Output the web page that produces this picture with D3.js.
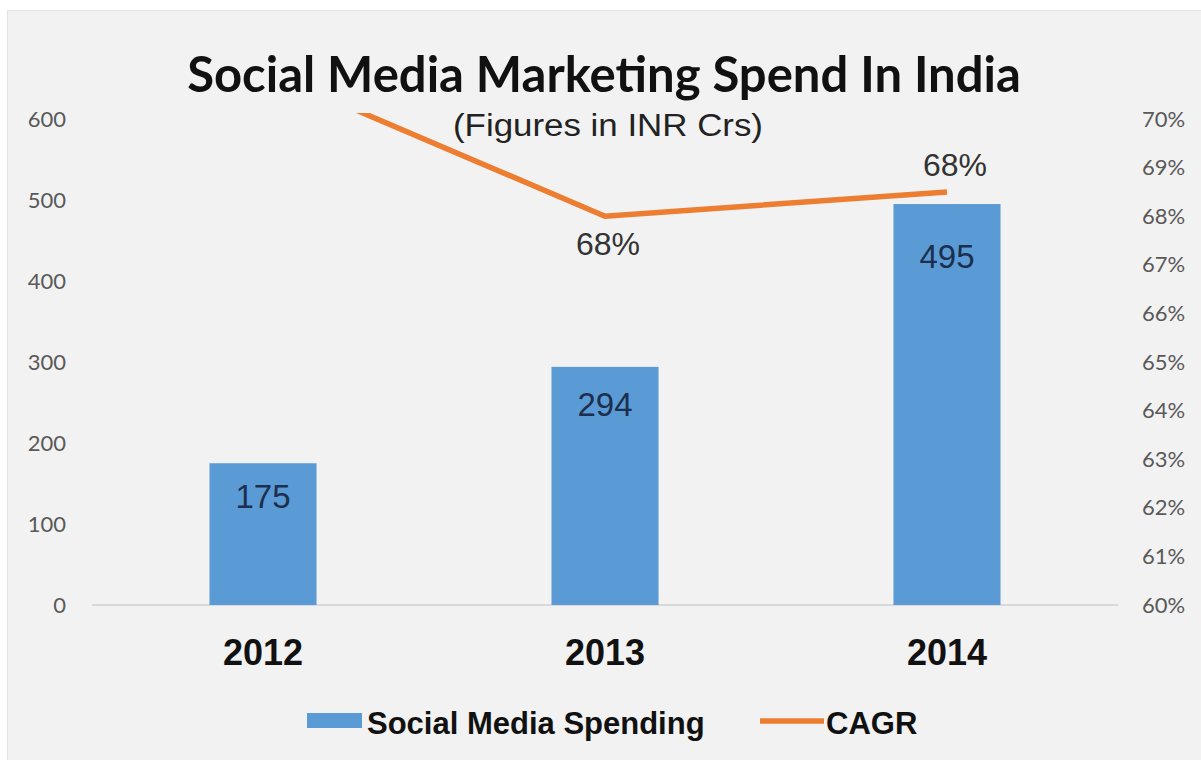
<!DOCTYPE html>
<html>
<head>
<meta charset="utf-8">
<script src="https://cdn.jsdelivr.net/npm/d3@7"></script>
<style>
  body { margin: 0; background: #fff; }
  svg { display: block; }
</style>
</head>
<body>
<svg id="chart"></svg>
<script>
// data
const years = ['2012', '2013', '2014'];
const spending = [175, 294, 495];
const cagr = [0.71, 0.68, 0.685];
const cagrLabels = [null, '68%', '68%'];
const leftTicks = [0, 100, 200, 300, 400, 500, 600];
const rightTicks = [0.60, 0.61, 0.62, 0.63, 0.64, 0.65, 0.66, 0.67, 0.68, 0.69, 0.70];

// label placement (style, not data)
const barLabelDy = [45, 49, 64];
const cagrLabelDy = [0, 39, -16];
const cagrLabelDx = [0, 3, 8];

const width = 1201, height = 760;
const plot = { left: 92, right: 1118, top: 113, bottom: 605 };
const sans = '"Liberation Sans", Arial, sans-serif';

const svg = d3.select('#chart').attr('width', width).attr('height', height);

// panel background
svg.append('rect')
  .attr('x', 7.5).attr('y', 10.5)
  .attr('width', width).attr('height', height)
  .attr('fill', '#f2f2f2').attr('stroke', '#e2e2e2');

// scales
const x = d3.scaleBand().domain(years)
  .range([plot.left, plot.right])
  .paddingInner(0.687).paddingOuter(0.3435);
const yL = d3.scaleLinear().domain([0, 600]).range([plot.bottom, 119]);
const yR = d3.scaleLinear().domain([0.60, 0.70]).range([plot.bottom, 119]);
const cx = i => x(years[i]) + x.bandwidth() / 2;

// title
svg.append('text')
  .attr('x', 604).attr('y', 92)
  .attr('text-anchor', 'middle')
  .style('font-family', 'Lato, sans-serif').style('font-weight', 'bold')
  .style('font-size', '49px').attr('fill', '#111')
  .text('Social Media Marketing Spend In India');
svg.append('text')
  .attr('x', 608).attr('y', 136)
  .attr('text-anchor', 'middle')
  .attr('textLength', 310).attr('lengthAdjust', 'spacingAndGlyphs')
  .style('font-family', sans)
  .style('font-size', '31px').attr('fill', '#222')
  .text('(Figures in INR Crs)');

// left axis labels
const axisL = d3.axisLeft(yL).tickValues(leftTicks).tickSize(0).tickPadding(0);
svg.append('g').attr('transform', 'translate(66,0)').call(axisL)
  .call(g => g.select('.domain').remove())
  .selectAll('text')
  .style('font-family', 'Lato, sans-serif').style('font-size', '22px')
  .attr('fill', '#595959');

// right axis labels
const axisR = d3.axisRight(yR).tickValues(rightTicks).tickFormat(d3.format('.0%'))
  .tickSize(0).tickPadding(0);
svg.append('g').attr('transform', 'translate(1142,0)').call(axisR)
  .call(g => g.select('.domain').remove())
  .selectAll('text')
  .style('font-family', 'Lato, sans-serif').style('font-size', '22px')
  .attr('fill', '#595959');

// baseline
svg.append('line')
  .attr('x1', plot.left).attr('x2', plot.right)
  .attr('y1', yL(0)).attr('y2', yL(0))
  .attr('stroke', '#d9d9d9').attr('stroke-width', 2);

// bars
svg.append('g').selectAll('rect').data(spending).enter().append('rect')
  .attr('x', (d, i) => x(years[i]))
  .attr('y', d => yL(d))
  .attr('width', x.bandwidth())
  .attr('height', d => yL(0) - yL(d))
  .attr('fill', '#5b9bd5');

svg.append('g').selectAll('text').data(spending).enter().append('text')
  .attr('x', (d, i) => cx(i))
  .attr('y', (d, i) => yL(d) + barLabelDy[i])
  .attr('text-anchor', 'middle')
  .style('font-family', sans)
  .style('font-size', '33px').attr('fill', '#1c2f4f')
  .text(d => d);

// x labels
svg.append('g').selectAll('text').data(years).enter().append('text')
  .attr('x', (d, i) => cx(i))
  .attr('y', 665)
  .attr('text-anchor', 'middle')
  .style('font-family', sans)
  .style('font-weight', 'bold').style('font-size', '36px').attr('fill', '#111')
  .text(d => d);

// CAGR line, clipped to the plot
svg.append('clipPath').attr('id', 'plot-clip')
  .append('rect')
  .attr('x', 0).attr('y', plot.top)
  .attr('width', width).attr('height', plot.bottom - plot.top);

const line = d3.line()
  .x((d, i) => cx(i))
  .y(d => yR(d));

svg.append('path').datum(cagr)
  .attr('d', line)
  .attr('clip-path', 'url(#plot-clip)')
  .attr('fill', 'none')
  .attr('stroke', '#ed7d31').attr('stroke-width', 5.5);

// CAGR labels: 2013 below the point, 2014 above
svg.append('g').selectAll('text').data(cagr).enter().append('text')
  .attr('x', (d, i) => cx(i) + cagrLabelDx[i])
  .attr('y', (d, i) => yR(d) + cagrLabelDy[i])
  .attr('text-anchor', 'middle')
  .style('font-family', sans)
  .style('font-size', '32px').attr('fill', '#333')
  .text((d, i) => cagrLabels[i] || '');

// legend
const legend = svg.append('g');
legend.append('rect')
  .attr('x', 307).attr('y', 713).attr('width', 55).attr('height', 15)
  .attr('fill', '#5b9bd5');
legend.append('text')
  .attr('x', 367).attr('y', 734)
  .style('font-family', sans)
  .style('font-weight', 'bold').style('font-size', '31px').attr('fill', '#111')
  .text('Social Media Spending');
legend.append('line')
  .attr('x1', 760).attr('x2', 824).attr('y1', 721).attr('y2', 721)
  .attr('stroke', '#ed7d31').attr('stroke-width', 5.5);
legend.append('text')
  .attr('x', 826).attr('y', 734)
  .style('font-family', sans)
  .style('font-weight', 'bold').style('font-size', '31px').attr('fill', '#111')
  .text('CAGR');
</script>
</body>
</html>
